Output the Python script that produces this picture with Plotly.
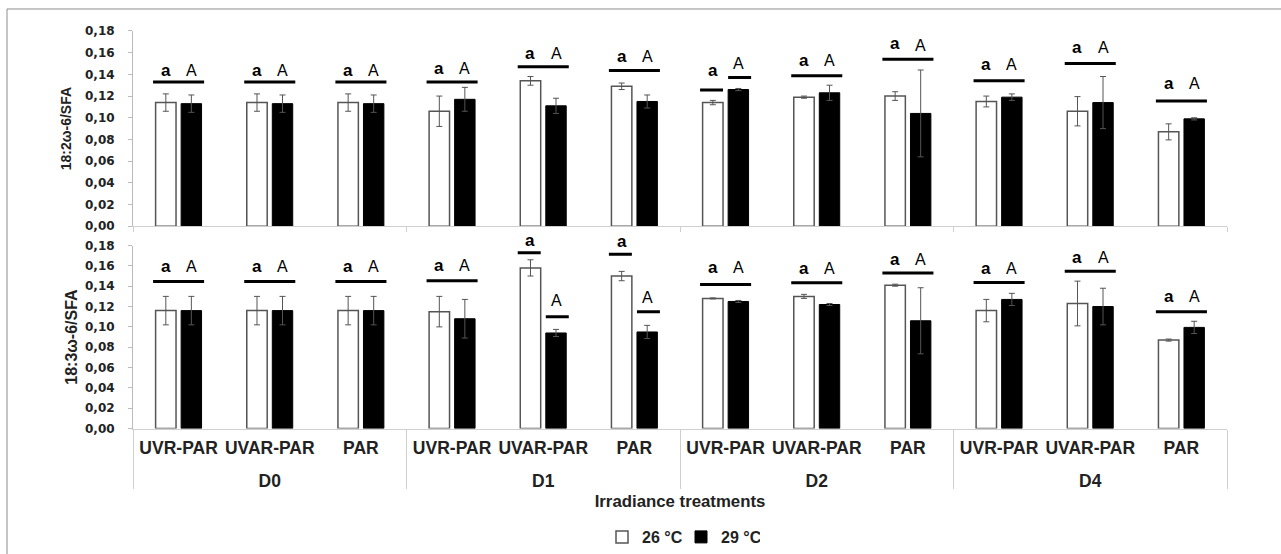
import plotly.graph_objects as go

# ---------------- data ----------------
days = ["D0"] * 3 + ["D1"] * 3 + ["D2"] * 3 + ["D4"] * 3
treatments = ["UVR-PAR", "UVAR-PAR", "PAR"] * 4
day_labels = ["D0", "D1", "D2", "D4"]
series_names = ["26 °C", "29 °C"]

# 18:2ω-6/SFA (top panel)
top_26 = [0.114, 0.114, 0.114, 0.106, 0.134, 0.129, 0.114, 0.119, 0.120, 0.115, 0.106, 0.087]
top_26_err = [0.008, 0.008, 0.008, 0.014, 0.004, 0.003, 0.002, 0.001, 0.004, 0.005, 0.0135, 0.0074]
top_29 = [0.113, 0.113, 0.113, 0.117, 0.111, 0.115, 0.126, 0.123, 0.104, 0.119, 0.114, 0.099]
top_29_err = [0.008, 0.008, 0.008, 0.011, 0.007, 0.006, 0.001, 0.007, 0.040, 0.003, 0.024, 0.001]

# 18:3ω-6/SFA (bottom panel)
bot_26 = [0.116, 0.116, 0.116, 0.115, 0.158, 0.150, 0.128, 0.130, 0.141, 0.116, 0.123, 0.087]
bot_26_err = [0.014, 0.014, 0.014, 0.015, 0.008, 0.0046, 0.0005, 0.002, 0.001, 0.011, 0.022, 0.001]
bot_29 = [0.116, 0.116, 0.116, 0.108, 0.094, 0.095, 0.125, 0.122, 0.106, 0.127, 0.120, 0.0995]
bot_29_err = [0.014, 0.014, 0.014, 0.019, 0.0035, 0.0065, 0.001, 0.001, 0.0325, 0.006, 0.018, 0.006]

# significance letters and bar-line heights
letters_26 = ["a"] * 12
letters_29 = ["A"] * 12
top_line_26 = [0.133, 0.133, 0.133, 0.133, 0.147, 0.1435, 0.1255, 0.1386, 0.154, 0.134, 0.150, 0.1154]
top_line_29 = [0.133, 0.133, 0.133, 0.133, 0.147, 0.1435, 0.137, 0.1386, 0.154, 0.134, 0.150, 0.1154]
top_txt_26 = [0.144, 0.144, 0.144, 0.1457, 0.1595, 0.1564, 0.144, 0.153, 0.1687, 0.1487, 0.1647, 0.132]
top_txt_29 = [0.144, 0.144, 0.144, 0.1457, 0.1595, 0.1564, 0.150, 0.153, 0.167, 0.1487, 0.1647, 0.132]

bot_line_26 = [0.1446, 0.1446, 0.1446, 0.1453, 0.173, 0.1715, 0.1417, 0.1434, 0.153, 0.1437, 0.1548, 0.115]
bot_line_29 = [0.1446, 0.1446, 0.1446, 0.1453, 0.110, 0.115, 0.1417, 0.1434, 0.153, 0.1437, 0.1548, 0.115]
bot_txt_26 = [0.1597, 0.1597, 0.1597, 0.160, 0.185, 0.184, 0.158, 0.157, 0.166, 0.157, 0.168, 0.130]
bot_txt_29 = [0.1597, 0.1597, 0.1597, 0.160, 0.126, 0.1286, 0.158, 0.157, 0.166, 0.157, 0.168, 0.130]

y_ticks = [0.00, 0.02, 0.04, 0.06, 0.08, 0.10, 0.12, 0.14, 0.16, 0.18]
Y_MAX = 0.18

# ---------------- derived positions (category index space) ----------------
n = len(treatments)
idx = list(range(n))
day_centers = [sum(i for i in idx if days[i] == d) / days.count(d) for d in day_labels]
group_bounds = [-0.5] + [i + 0.5 for i in range(n - 1) if days[i] != days[i + 1]] + [n - 0.5]
cat_range = [-0.5, n - 0.5]

# ---------------- styling ----------------
FONT = "Arial, 'Liberation Sans', sans-serif"
TICKFONT = "'DejaVu Sans', Verdana, sans-serif"
GRAY = "#cfcfcf"
BARGAP = 0.44
BARGROUPGAP = 0.2
slot = (1 - BARGAP) / 2          # width of each bar slot in category units
off = slot / 2                   # centre offset of each bar
half_line = slot                 # half span of the joint line
inner = slot * BARGROUPGAP / 2   # inner edge of separated lines

x_dom = [133 / 1281, 1227 / 1281]
top_dom = [1 - 226.7 / 554, 1 - 31 / 554]
bot_dom = [1 - 429.3 / 554, 1 - 246 / 554]

fig = go.Figure()
annotations = []


def add_panel(xa, ya, xo, v26, e26, v29, e29, l26, l29, t26, t29, legend):
    xcat = [days, treatments]
    fig.add_trace(go.Bar(
        x=xcat, y=v26, name=series_names[0], xaxis=xa, yaxis=ya,
        marker=dict(color="white", line=dict(color="#555555", width=1.5)),
        error_y=dict(type="data", array=e26, color="#555555", thickness=1, width=3),
        showlegend=legend, legendgroup="26"))
    fig.add_trace(go.Bar(
        x=xcat, y=v29, name=series_names[1], xaxis=xa, yaxis=ya,
        marker=dict(color="black", line=dict(color="black", width=1)),
        error_y=dict(type="data", array=e29, color="#555555", thickness=1, width=3),
        showlegend=legend, legendgroup="29"))
    # significance lines
    lx, ly = [], []
    for i in idx:
        if l26[i] == l29[i]:
            lx += [i - half_line, i + half_line, None]
            ly += [l26[i], l26[i], None]
        else:
            lx += [i - half_line, i - inner, None, i + inner, i + half_line, None]
            ly += [l26[i], l26[i], None, l29[i], l29[i], None]
    fig.add_trace(go.Scatter(x=lx, y=ly, mode="lines", xaxis=xo, yaxis=ya,
                             line=dict(color="black", width=3), showlegend=False,
                             hoverinfo="skip", cliponaxis=False))
    # letters: y given as fraction of the (0..Y_MAX) axis so those above the top stay visible
    yref = ya + " domain"
    for i in idx:
        annotations.append(dict(x=i - off, y=t26[i] / Y_MAX, xref=xo, yref=yref,
                                text=letters_26[i], showarrow=False,
                                xanchor="center", yanchor="middle",
                                font=dict(family=FONT, size=17, color="black", weight="bold")))
        annotations.append(dict(x=i + off, y=t29[i] / Y_MAX, xref=xo, yref=yref,
                                text=letters_29[i], showarrow=False,
                                xanchor="center", yanchor="middle",
                                font=dict(family=FONT, size=16, color="black")))


add_panel("x", "y", "x3", top_26, top_26_err, top_29, top_29_err,
          top_line_26, top_line_29, top_txt_26, top_txt_29, True)
add_panel("x2", "y2", "x4", bot_26, bot_26_err, bot_29, bot_29_err,
          bot_line_26, bot_line_29, bot_txt_26, bot_txt_29, False)

# helper (invisible) trace so the day-label axis exists
fig.add_trace(go.Scatter(x=day_centers, y=[0] * len(day_centers), xaxis="x5", yaxis="y2",
                         mode="markers", marker=dict(opacity=0), showlegend=False,
                         hoverinfo="skip"))

yaxis_common = dict(
    range=[0, Y_MAX], tickvals=y_ticks, tickformat=".2f", ticks="outside", ticklen=4,
    tickcolor="#bbbbbb", showline=True, linecolor="#bbbbbb", linewidth=1,
    showgrid=False, zeroline=False, automargin=False, ticklabelstandoff=11,
    tickfont=dict(family=TICKFONT, size=12, color="#222222", weight="bold"),
)

fig.update_layout(
    template="none",
    width=1281, height=554,
    margin=dict(l=0, r=0, t=0, b=0),
    paper_bgcolor="white", plot_bgcolor="white",
    separators=",.",
    barmode="group", bargap=BARGAP, bargroupgap=BARGROUPGAP,
    font=dict(family=FONT, color="#222222"),
    # top panel
    xaxis=dict(type="multicategory", domain=x_dom, anchor="y", showticklabels=False,
               showline=True, linecolor=GRAY, showgrid=False, ticks="",
               showdividers=False, automargin=False),
    xaxis3=dict(overlaying="x", anchor="y", range=cat_range, showticklabels=False,
                showline=False, showgrid=False, zeroline=False, ticks="outside",
                tickvals=group_bounds, ticklen=5, tickcolor=GRAY, automargin=False),
    yaxis=dict(domain=top_dom, anchor="x",
               title=dict(text="18:2ω-6/SFA", standoff=10,
                          font=dict(family=FONT, size=14, color="#222222", weight="bold")),
               **yaxis_common),
    # bottom panel
    xaxis2=dict(type="multicategory", domain=x_dom, anchor="y2", showticklabels=False,
                showline=True, linecolor=GRAY, showgrid=False, ticks="",
                showdividers=False, automargin=False),
    xaxis4=dict(overlaying="x2", anchor="y2", range=cat_range, tickvals=idx,
                ticktext=treatments, ticks="", showline=False, showgrid=False,
                zeroline=False, ticklabelstandoff=7,
                tickfont=dict(family=FONT, size=17.5, color="#222222", weight="bold"),
                automargin=False),
    xaxis5=dict(overlaying="x2", anchor="y2", range=cat_range, tickvals=day_centers,
                ticktext=day_labels, ticks="", showline=False, showgrid=False,
                zeroline=False, ticklabelstandoff=40,
                tickfont=dict(family=FONT, size=17.5, color="#222222", weight="bold"),
                minor=dict(tickvals=group_bounds, ticks="outside", ticklen=59,
                           tickcolor=GRAY, tickwidth=1, showgrid=False),
                title=dict(text="Irradiance treatments", standoff=5,
                           font=dict(family=FONT, size=16.8, color="#222222", weight="bold")),
                automargin=False),
    yaxis2=dict(domain=bot_dom, anchor="x2",
                title=dict(text="18:3ω-6/SFA", standoff=3,
                           font=dict(family=FONT, size=16, color="#222222", weight="bold")),
                **yaxis_common),
    showlegend=True,
    legend=dict(orientation="h", x=681 / 1281, xanchor="center", y=1 - 537.7 / 554,
                yanchor="middle", entrywidth=34, entrywidthmode="pixels",
                font=dict(family=FONT, size=16, color="#222222", weight="bold"),
                bgcolor="rgba(0,0,0,0)", itemwidth=30, tracegroupgap=0),
    annotations=annotations,
    shapes=[dict(type="rect", xref="paper", yref="paper", x0=7 / 1281, x1=1.05,
                 y0=-0.05, y1=1 - 9 / 554, line=dict(color="#8c8c8c", width=1),
                 fillcolor="rgba(0,0,0,0)", layer="below")],
)

fig.write_html("out.html", config={"displayModeBar": False},
               post_script="document.body.style.margin='0';")
